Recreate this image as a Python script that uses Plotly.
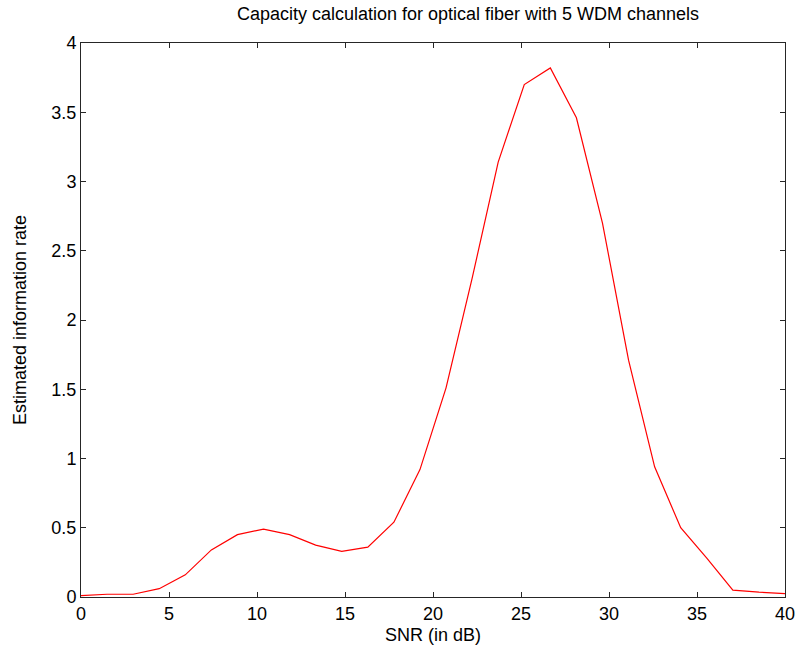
import numpy as np
import plotly.graph_objects as go

snr_db = list(np.linspace(0, 40, 28))
info_rate = [0.01, 0.02, 0.02, 0.06, 0.16, 0.34, 0.45, 0.49, 0.45, 0.375,
             0.33, 0.36, 0.54, 0.92, 1.51, 2.30, 3.14, 3.70, 3.82, 3.46,
             2.70, 1.71, 0.94, 0.50, 0.28, 0.05, 0.035, 0.025]

title_text = "Capacity calculation for optical fiber with 5 WDM channels"
x_title = "SNR (in dB)"
y_title = "Estimated information rate"

font_family = "Liberation Sans, Arial, sans-serif"

fig = go.Figure()
fig.add_trace(go.Scatter(x=snr_db, y=info_rate, mode="lines",
                         line=dict(color="#ff0000", width=1.2), showlegend=False))

axis_common = dict(showline=True, linecolor="#262626", linewidth=1, mirror="ticks",
                   ticks="inside", ticklen=5, tickcolor="#262626", tickwidth=1,
                   showgrid=False, zeroline=False, automargin=False,
                   ticklabeloverflow="allow",
                   tickfont=dict(family=font_family, size=18, color="#000000"))

fig.update_layout(
    width=795, height=657,
    margin=dict(l=81, r=10, t=43, b=60),
    paper_bgcolor="white", plot_bgcolor="white",
    title=dict(text=title_text, x=468 / 795, xanchor="center", xref="container",
               y=1 - 14 / 657, yref="container", yanchor="middle",
               font=dict(family=font_family, size=18, color="#000000")),
    xaxis=dict(range=[0, 40], dtick=5, tick0=0,
               title=dict(text=x_title, standoff=5,
                          font=dict(family=font_family, size=18, color="#000000")),
               **axis_common),
    yaxis=dict(range=[0, 4], dtick=0.5, tick0=0,
               title=dict(text=y_title, standoff=20,
                          font=dict(family=font_family, size=18, color="#000000")),
               **axis_common),
)

fig.write_html("out.html")
